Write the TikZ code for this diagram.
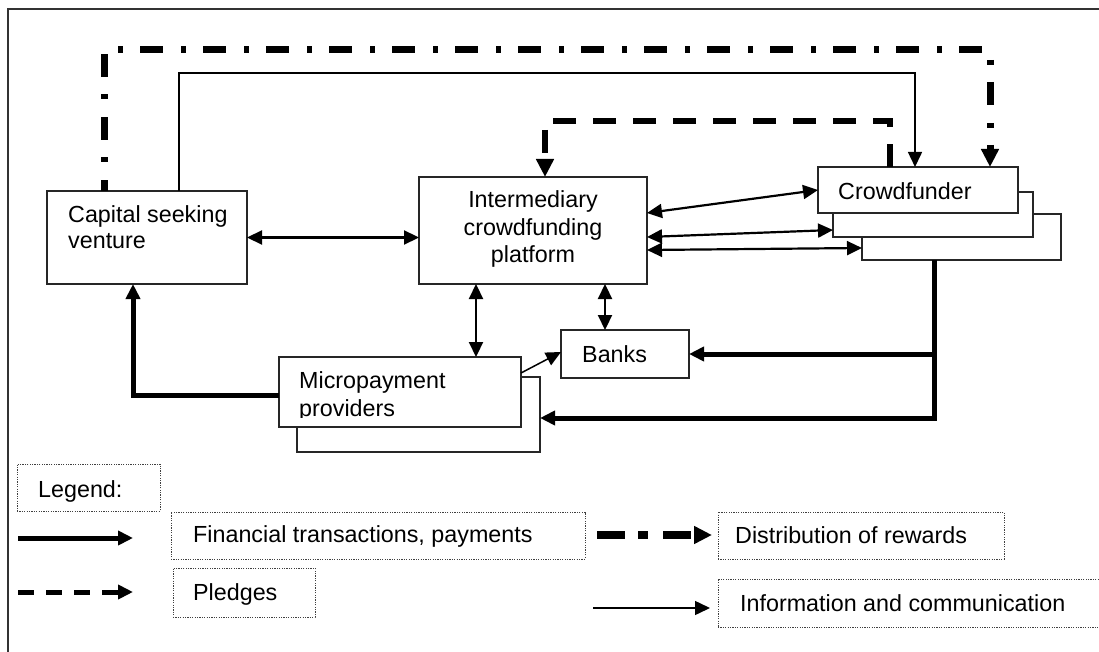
\documentclass[tikz,border=0pt]{standalone}
\usepackage{fontspec}
\setmainfont{Liberation Sans}
\usetikzlibrary{arrows.meta}

\begin{document}
\begin{tikzpicture}[x=1pt,y=-1pt,
  box/.style={draw=black!85, line width=1.5pt, fill=white, inner sep=0pt, outer sep=0pt},
  legbox/.style={draw=black!75, line width=1pt, dash pattern=on 1.2pt off 1.2pt, inner sep=0pt, outer sep=0pt},
  lbl/.style={inner sep=0pt, font=\fontsize{23.3}{27}\selectfont, text=black},
  tipS/.tip={Triangle[length=15pt,width=14pt]},
  tipL/.tip={Triangle[length=18pt,width=17pt]},
  info/.style={line width=1.5pt, -tipS},
  both/.style={line width=2.2pt, tipS-tipS},
  pay/.style={line width=5pt, line join=miter, -tipS},
  pledge/.style={line width=6.5pt, line join=miter, dash pattern=on 23pt off 17pt, -tipL},
  reward/.style={line width=7pt, line join=miter, dash pattern=on 23pt off 18pt on 5pt off 17pt, dash phase=12pt, -tipL},
]
\useasboundingbox (0,0) rectangle (1099,652);
\fill[white] (0,0) rectangle (1099,652);

% outer frame (left and top edges)
\draw[line width=1.5pt, black!80] (8,652) -- (8,9) -- (1099,9);

% actors
\node[box, minimum width=200pt, minimum height=93pt]  (csv)   at (147,237.5) {};
\node[box, minimum width=228pt, minimum height=107pt] (icp)   at (533,230.5) {};
\node[box, minimum width=199pt, minimum height=46pt]  (cf3)   at (961.5,237) {};
\node[box, minimum width=200pt, minimum height=45pt]  (cf2)   at (933,214.5) {};
\node[box, minimum width=200pt, minimum height=46pt]  (cf1)   at (918,190) {};
\node[box, minimum width=128pt, minimum height=48pt]  (banks) at (625,354) {};
\node[box, minimum width=243pt, minimum height=75pt]  (mp2)   at (418.5,414.5) {};
\node[box, minimum width=242pt, minimum height=70pt]  (mp1)   at (400,392) {};

% actor labels
\node[lbl, anchor=base west] at (68,223) {Capital seeking};
\node[lbl, anchor=base west] at (68,248) {venture};
\node[lbl, anchor=base] at (533,208) {Intermediary};
\node[lbl, anchor=base] at (533,236) {crowdfunding};
\node[lbl, anchor=base] at (533,262) {platform};
\node[lbl, anchor=base west] at (838,200) {Crowdfunder};
\node[lbl, anchor=base west] at (582,362) {Banks};
\node[lbl, anchor=base west] at (299,388) {Micropayment};
\begin{scope}
  \clip (279,357) rectangle (521,417);
  \node[lbl, anchor=base west] at (299,416) {providers};
\end{scope}

% distribution of rewards
\coordinate (rwL) at (104,50);
\coordinate (rwR) at (990,50);
\draw[reward] (csv.north -| rwL) -- (rwL) -- (rwR) -- (cf1.north -| rwR);

% information from the venture to the crowdfunders
\coordinate (inL) at (179,73);
\coordinate (inR) at (915,73);
\draw[info] (csv.north -| inL) -- (inL) -- (inR) -- (cf1.north -| inR);

% pledges
\coordinate (plR) at (890,121);
\coordinate (plL) at (545,121);
\draw[pledge] (cf1.north -| plR) -- (plR) -- (plL) -- (icp.north -| plL);

% two-way communication
\draw[both] (csv.east) -- (icp.west |- csv.east);
\draw[both] ([yshift=17.5pt]icp.east) -- (cf1.west);
\draw[both] ([yshift=-6.5pt]icp.east) -- ([yshift=-15.5pt]cf2.west);
\draw[both] ([yshift=-19.5pt]icp.east) -- ([yshift=-11pt]cf3.west);
\coordinate (vA) at ([xshift=-57pt]icp.south);
\draw[both] (vA) -- (vA |- mp1.north);
\coordinate (vB) at ([xshift=72pt]icp.south);
\draw[both] (vB) -- (vB |- banks.north);
\draw[info] ([yshift=19pt]mp1.east) -- ([yshift=2pt]banks.west);

% payments
\coordinate (pyT) at ([xshift=-27.5pt]cf3.south);
\draw[pay] (pyT) |- ([yshift=-3.5pt]mp2.east);
\draw[pay] (pyT |- banks.east) -- (banks.east);
\coordinate (pyC) at ([xshift=-14pt]csv.south);
\draw[pay] ([yshift=-3pt]mp1.west) -| (pyC);

% legend
\node[legbox, minimum width=143pt, minimum height=47pt] (leg)  at (88.5,487.5) {};
\node[legbox, minimum width=414pt, minimum height=47pt] (fin)  at (378,535.5) {};
\node[legbox, minimum width=286pt, minimum height=47pt] (dist) at (861,535.5) {};
\node[legbox, minimum width=142pt, minimum height=49pt] (pled) at (244,592.5) {};
\node[legbox, minimum width=392pt, minimum height=48pt] (inf)  at (914,603) {};
\node[lbl, anchor=base west] at (38,497) {Legend:};
\node[lbl, anchor=base west] at (193,542) {Financial transactions, payments};
\node[lbl, anchor=base west] at (735,543) {Distribution of rewards};
\node[lbl, anchor=base west] at (193,600) {Pledges};
\node[lbl, anchor=base west] at (740,611) {Information and communication};

\coordinate (l1a) at (18,538);  \coordinate (l1b) at (133,538);
\draw[pay] (l1a) -- (l1b);
\coordinate (l2a) at (18,592);  \coordinate (l2b) at (133,592);
\draw[line width=5pt, dash pattern=on 16pt off 12pt, -tipS] (l2a) -- (l2b);
\coordinate (l3a) at (597,535); \coordinate (l3b) at (712,535);
\draw[line width=8pt, dash pattern=on 28pt off 13pt on 10pt off 15pt, -tipL] (l3a) -- (l3b);
\coordinate (l4a) at (593,608); \coordinate (l4b) at (710,608);
\draw[info] (l4a) -- (l4b);
\end{tikzpicture}
\end{document}
